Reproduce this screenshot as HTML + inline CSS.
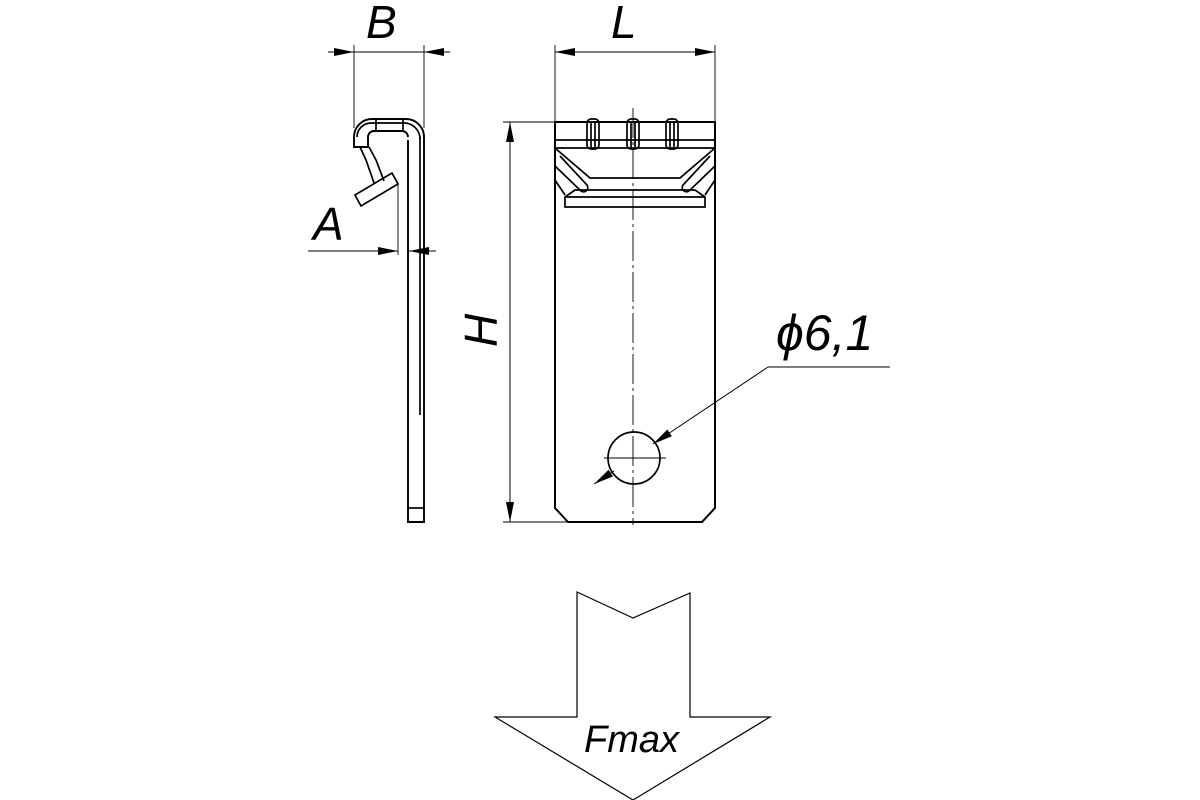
<!DOCTYPE html>
<html><head><style>body{margin:0;background:#fff}svg{display:block}</style></head><body>
<svg width="1200" height="800" viewBox="0 0 1200 800" xmlns="http://www.w3.org/2000/svg" font-family="Liberation Sans, sans-serif" font-style="italic">
<defs>
<marker id="ar" viewBox="0 0 10 4" refX="10" refY="2" markerWidth="22" markerHeight="8" markerUnits="userSpaceOnUse" orient="auto-start-reverse"><path d="M0,0L10,2L0,4z" fill="#000"/></marker>
</defs>
<g fill="none" stroke="#000" stroke-width="1.7">
<!-- plate -->
<path d="M555,122H715V508L702,522H568L555,508Z" stroke-width="2"/>
<line x1="555" y1="140" x2="715" y2="140"/>
<line x1="555" y1="148" x2="715" y2="148"/>
<path d="M555,148L590,178H680L715,148"/>
<path d="M555,166L580,190a4,4 0 0 0 7,-5L560,156"/>
<path d="M715,166L690,190a4,4 0 0 1 -7,-5L710,156"/>
<path d="M555,180L565,195M715,180L705,195"/>
<path d="M565,197L575,190H695L705,197V207H565Z"/>
<line x1="565" y1="197" x2="705" y2="197"/>
<rect x="587" y="119" width="12" height="30" rx="4"/><line x1="591" y1="121" x2="591" y2="147"/><line x1="595" y1="121" x2="595" y2="147"/>
<rect x="627" y="119" width="12" height="30" rx="4"/><line x1="631" y1="121" x2="631" y2="147"/><line x1="635" y1="121" x2="635" y2="147"/>
<rect x="666" y="119" width="12" height="30" rx="4"/><line x1="670" y1="121" x2="670" y2="147"/><line x1="674" y1="121" x2="674" y2="147"/>
<line x1="633" y1="108" x2="633" y2="525" stroke-width="0.9" stroke-dasharray="30,4,3,4"/>
<circle cx="634" cy="458" r="26"/>
<line x1="604" y1="458" x2="666" y2="458" stroke-width="0.9"/>
<line x1="768" y1="367" x2="890" y2="367" stroke-width="1"/>
<line x1="768" y1="367" x2="653" y2="444" stroke-width="1" marker-end="url(#ar)"/>
<line x1="594" y1="484" x2="614" y2="471" stroke-width="1" marker-start="url(#ar)"/>
<!-- dims L -->
<line x1="555" y1="45" x2="555" y2="122" stroke-width="0.9"/>
<line x1="715" y1="45" x2="715" y2="122" stroke-width="0.9"/>
<line x1="555" y1="52" x2="715" y2="52" stroke-width="1" marker-start="url(#ar)" marker-end="url(#ar)"/>
<!-- H -->
<line x1="503" y1="122" x2="555" y2="122" stroke-width="0.9"/>
<line x1="503" y1="522" x2="568" y2="522" stroke-width="0.9"/>
<line x1="510" y1="122" x2="510" y2="522" stroke-width="1" marker-start="url(#ar)" marker-end="url(#ar)"/>
<!-- B -->
<line x1="354" y1="45" x2="354" y2="128" stroke-width="0.9"/>
<line x1="424" y1="45" x2="424" y2="128" stroke-width="0.9"/>
<line x1="328" y1="52" x2="354" y2="52" stroke-width="1" marker-end="url(#ar)"/>
<line x1="450" y1="52" x2="424" y2="52" stroke-width="1" marker-end="url(#ar)"/>
<line x1="354" y1="52" x2="424" y2="52" stroke-width="0.9"/>
<!-- A -->
<line x1="398" y1="185" x2="398" y2="255" stroke-width="0.9"/>
<line x1="308" y1="251" x2="398" y2="251" stroke-width="1" marker-end="url(#ar)"/>
<line x1="436" y1="251" x2="409" y2="251" stroke-width="1" marker-end="url(#ar)"/>
<!-- profile -->
<path d="M408,140V522H424V137a18,18 0 0 0 -18,-18H372a18,18 0 0 0 -18,18V147H368V137a6,6 0 0 1 6,-6H402a6,6 0 0 1 6,6" stroke-width="1.9"/>
<line x1="420" y1="137" x2="420" y2="415"/>
<line x1="408" y1="508" x2="424" y2="508"/>
<path d="M357,137a14,14 0 0 1 14,-14H404a16,16 0 0 1 16,16"/>
<line x1="376" y1="120" x2="376" y2="131"/><line x1="403" y1="120" x2="403" y2="131"/>
<path d="M369,147L376,160L384,181M360,147L366,160L374,183"/>
<path d="M355,195L392,173L398,184L361,206Z"/>
<!-- arrow -->
<path d="M577,592L633,618L690,593V717H770L633,800L495,717H577Z" stroke-width="1.2"/>
</g>
<g font-size="46" fill="#000">
<text x="366" y="38">B</text>
<text x="611" y="38">L</text>
<text x="313" y="240">A</text>
<text transform="translate(497,347) rotate(-90)">H</text>
<text x="776" y="350" font-size="50">ϕ6,1</text>
<text x="584" y="752" font-size="38">Fmax</text>
</g>
</svg>
</body></html>
